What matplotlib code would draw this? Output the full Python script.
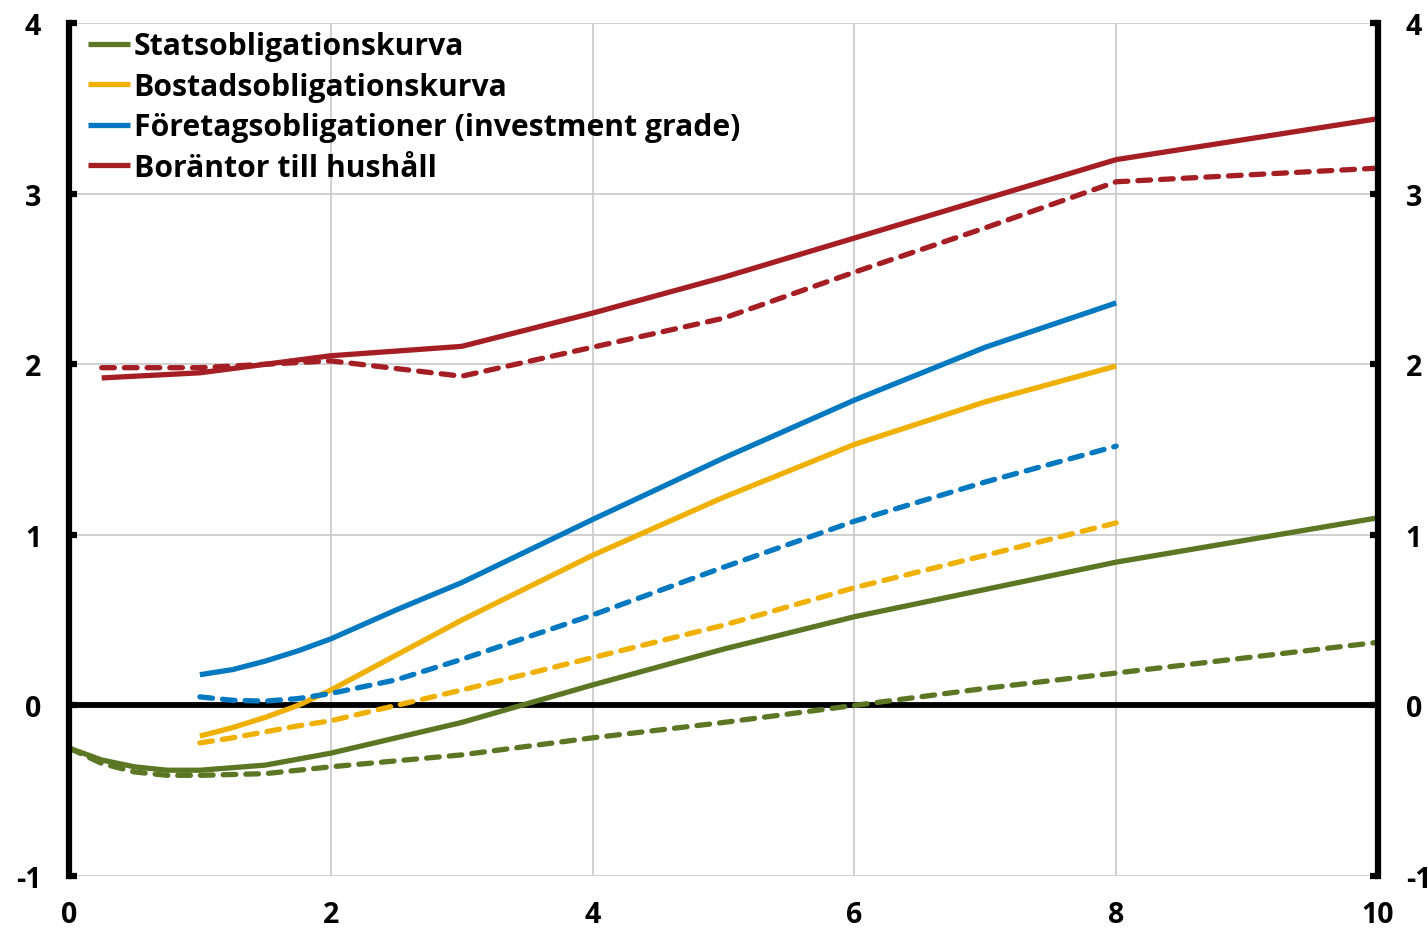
import matplotlib
matplotlib.use('Agg')
import matplotlib.pyplot as plt

plt.rcParams['font.family'] = ['Open Sans', 'DejaVu Sans']
plt.rcParams['font.weight'] = 'bold'
plt.rcParams['axes.unicode_minus'] = False

# Data (maturity in years, rate in percent)
stat_x = [0, 0.25, 0.5, 0.75, 1, 1.5, 2, 3, 4, 5, 6, 7, 8, 10]
stat_solid = [-0.25, -0.32, -0.36, -0.38, -0.38, -0.35, -0.28, -0.10, 0.12, 0.33, 0.52, 0.68, 0.84, 1.10]
stat_dash = [-0.25, -0.34, -0.39, -0.41, -0.41, -0.40, -0.36, -0.29, -0.19, -0.10, 0.0, 0.10, 0.19, 0.37]

bost_x = [1, 1.25, 1.5, 1.75, 2, 3, 4, 5, 6, 7, 8]
bost_solid = [-0.18, -0.13, -0.07, 0.00, 0.09, 0.50, 0.88, 1.22, 1.53, 1.78, 1.99]
bost_dash = [-0.22, -0.19, -0.155, -0.12, -0.09, 0.09, 0.28, 0.47, 0.69, 0.88, 1.07]

ftg_x = [1, 1.25, 1.5, 1.75, 2, 2.5, 3, 4, 5, 6, 7, 8]
ftg_solid = [0.18, 0.21, 0.26, 0.32, 0.39, 0.56, 0.72, 1.09, 1.45, 1.79, 2.10, 2.36]
ftg_dash = [0.05, 0.03, 0.025, 0.04, 0.07, 0.15, 0.27, 0.53, 0.81, 1.08, 1.31, 1.52]

bor_x = [0.25, 1, 2, 3, 4, 5, 6, 7, 8, 10]
bor_solid = [1.92, 1.95, 2.05, 2.105, 2.30, 2.51, 2.74, 2.97, 3.20, 3.44]
bor_dash = [1.98, 1.98, 2.02, 1.93, 2.10, 2.27, 2.54, 2.80, 3.07, 3.15]

labels = ['Statsobligationskurva', 'Bostadsobligationskurva',
          'Företagsobligationer (investment grade)', 'Boräntor till hushåll']
colors = ['#5b7724', '#f0b000', '#0079c1', '#a51e24']

yticks = [-1, 0, 1, 2, 3, 4]
xticks = [0, 2, 4, 6, 8, 10]

fig = plt.figure(figsize=(14.28, 9.29), dpi=100)
ax = fig.add_axes([0.0483, 0.056, 0.9167, 0.918])

lw = 3.8
dash = (2.4, 1.9)
series = [(stat_x, stat_solid, stat_dash), (bost_x, bost_solid, bost_dash),
          (ftg_x, ftg_solid, ftg_dash), (bor_x, bor_solid, bor_dash)]
for (x, s, d), c, lab in zip(series, colors, labels):
    ax.plot(x, s, color=c, lw=lw, label=lab, solid_capstyle='butt', zorder=4)
    ax.plot(x, d, color=c, lw=lw, dashes=dash, dash_capstyle='round', zorder=4)

ax.axhline(0, color='black', lw=4.2, zorder=3)

ax.set_xlim(0, 10)
ax.set_ylim(-1, 4)
ax.set_xticks(xticks)
ax.set_yticks(yticks)
ax.grid(True, color='#c8c8c8', lw=1.2, zorder=0)

for side in ['top', 'bottom']:
    ax.spines[side].set_visible(False)
for side in ['left', 'right']:
    ax.spines[side].set_linewidth(4.5)
    ax.spines[side].set_zorder(5)

ax.tick_params(axis='y', direction='in', length=6, width=4.5, left=True, right=True,
               labelleft=True, labelright=True, labelsize=20.5, pad=20)
ax.tick_params(axis='x', length=0, labelsize=20.5, pad=17)

leg = ax.legend(loc='upper left', bbox_to_anchor=(-0.004, 1.019), frameon=False,
                fontsize=21.7, handlelength=1.4, handletextpad=0.12,
                labelspacing=0.35, borderaxespad=0.4)
for h in leg.get_lines():
    h.set_linewidth(3.8)

fig.savefig('out.png', dpi=100)
